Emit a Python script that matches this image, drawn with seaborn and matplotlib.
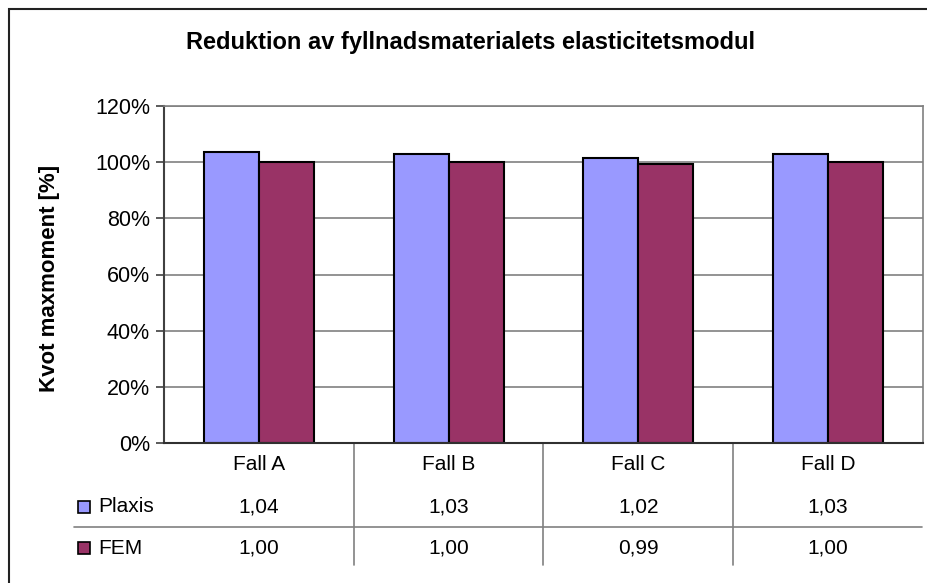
import pandas as pd
import matplotlib
matplotlib.use("Agg")
import matplotlib.pyplot as plt
import matplotlib.patches as mpatches
import matplotlib.transforms as mtransforms
from matplotlib.ticker import PercentFormatter
import seaborn as sns

# Data
cases = ["Fall A", "Fall B", "Fall C", "Fall D"]
plaxis = [1.036, 1.030, 1.016, 1.030]
fem = [1.000, 1.000, 0.993, 1.000]
series = ["Plaxis", "FEM"]
colors = {"Plaxis": "#9999FF", "FEM": "#993366"}
yticks = [0, 0.2, 0.4, 0.6, 0.8, 1.0, 1.2]

df = pd.DataFrame({
    "case": cases * 2,
    "serie": ["Plaxis"] * len(cases) + ["FEM"] * len(cases),
    "value": plaxis + fem,
})

sns.set_style("white")
plt.rcParams["font.family"] = ["Liberation Sans", "DejaVu Sans"]
plt.rcParams["text.color"] = "black"
plt.rcParams["axes.labelcolor"] = "black"
plt.rcParams["ytick.color"] = "black"

W, H = 928, 583
fig = plt.figure(figsize=(W / 100, H / 100), dpi=100)


def px(x, y):
    return x / W, 1 - y / H


# axes placed like the original plot area
l, t = px(164, 106)
r, b = px(923, 443)
ax = fig.add_axes([l, b, r - l, t - b])

sns.barplot(data=df, x="case", y="value", hue="serie", palette=colors,
            saturation=1, width=0.58, edgecolor="black", linewidth=1.5,
            ax=ax, legend=False)

ax.set_ylim(0, 1.2)
ax.set_xlim(-0.5, 3.5)
ax.set_yticks(yticks)
ax.yaxis.set_major_formatter(PercentFormatter(xmax=1, decimals=0))
ax.grid(axis="y", color="#808080", linewidth=1.2)
ax.set_axisbelow(True)
ax.tick_params(axis="y", length=6, width=1.2, color="#404040", labelcolor="black",
               labelsize=15.5, pad=4, left=True)
ax.tick_params(axis="x", bottom=False, labelbottom=False)
ax.set_xlabel("")
ax.set_ylabel("")
for s in ["top", "right"]:
    ax.spines[s].set_color("#808080")
    ax.spines[s].set_linewidth(1.2)
ax.spines["left"].set_color("#404040")
ax.spines["left"].set_linewidth(1.5)
ax.spines["bottom"].set_color("#303030")
ax.spines["bottom"].set_linewidth(1.5)

fig.text(px(50, 0)[0], px(0, 278)[1], "Kvot maxmoment [%]", rotation=90,
         ha="center", va="center", fontsize=16, fontweight="bold")
fig.text(px(471, 0)[0], px(0, 49)[1], "Reduktion av fyllnadsmaterialets elasticitetsmodul",
         ha="center", va="baseline", fontsize=17, fontweight="bold")

# data table under the plot
trans = mtransforms.blended_transform_factory(ax.transData, fig.transFigure)
row_y = {"head": px(0, 464)[1], "Plaxis": px(0, 507)[1], "FEM": px(0, 548)[1]}
for i, c in enumerate(cases):
    ax.text(i, row_y["head"], c, transform=trans, ha="center", va="center",
            fontsize=15, clip_on=False)
    ax.text(i, row_y["Plaxis"], f"{plaxis[i]:.2f}".replace(".", ","), transform=trans,
            ha="center", va="center", fontsize=15, clip_on=False)
    ax.text(i, row_y["FEM"], f"{fem[i]:.2f}".replace(".", ","), transform=trans,
            ha="center", va="center", fontsize=15, clip_on=False)
for xs in [0.5, 1.5, 2.5]:
    ax.plot([xs, xs], [b, px(0, 565)[1]], transform=trans, color="#808080",
            linewidth=1.2, clip_on=False)
fig.add_artist(plt.Line2D([px(74, 0)[0], px(922, 0)[0]], [px(0, 527)[1]] * 2,
                          color="#808080", linewidth=1.2))

for name in series:
    yc = row_y[name]
    fig.add_artist(mpatches.Rectangle((px(78, 0)[0], yc - 6 / H), 12 / W, 12 / H,
                                      facecolor=colors[name], edgecolor="black",
                                      linewidth=1.2))
    fig.text(px(98, 0)[0], yc, name, ha="left", va="center", fontsize=15)

# outer chart frame
fx, fy = px(9, 9)
fig.add_artist(mpatches.Rectangle((fx, -0.1), 1.2, fy + 0.1, fill=False,
                                  edgecolor="#222222", linewidth=1.5))

fig.savefig("out.png", dpi=100)
